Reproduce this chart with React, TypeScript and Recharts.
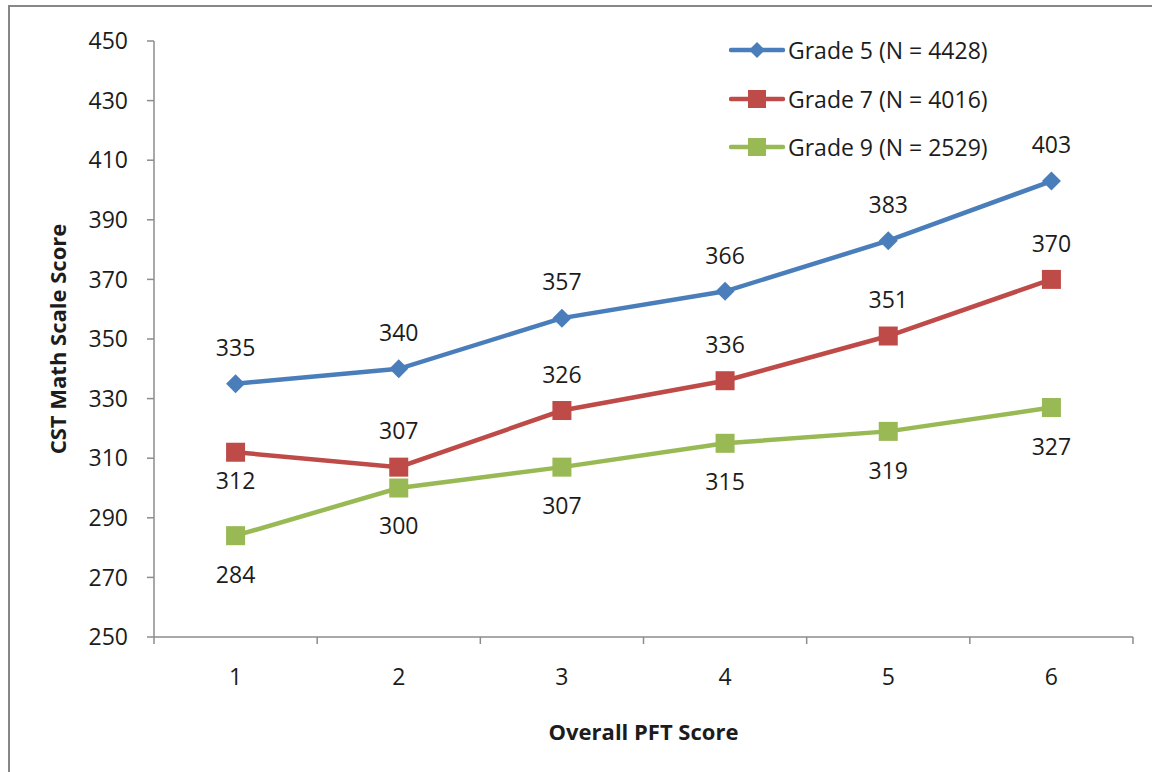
import { LineChart, Line, XAxis, YAxis, Legend, LabelList } from 'recharts'

const PFT_SCORES = [1, 2, 3, 4, 5, 6]
const GRADE5 = [335, 340, 357, 366, 383, 403]
const GRADE7 = [312, 307, 326, 336, 351, 370]
const GRADE9 = [284, 300, 307, 315, 319, 327]
const Y_TICKS = [250, 270, 290, 310, 330, 350, 370, 390, 410, 430, 450]
const X_EDGES = [0.5, 1.5, 2.5, 3.5, 4.5, 5.5, 6.5]

const AXIS_GRAY = '#8c8c8c'
const TEXT = '#1c1c1c'
const FONT = "'Open Sans', sans-serif"
const FS = 23

// label offset from the point, px (negative = above)
const SERIES = [
  { key: 'g5', name: 'Grade 5 (N = 4428)', color: '#4a7ebb', shape: 'diamond', labelDy: [-36, -36, -36, -36, -36, -36] },
  { key: 'g7', name: 'Grade 7 (N = 4016)', color: '#be4b48', shape: 'square', labelDy: [28, -36, -36, -36, -36, -36] },
  { key: 'g9', name: 'Grade 9 (N = 2529)', color: '#98b954', shape: 'square', labelDy: [39, 38, 39, 38, 39, 39] },
]

const data = PFT_SCORES.map((s, i) => ({ score: s, g5: GRADE5[i], g7: GRADE7[i], g9: GRADE9[i] }))

const Marker = ({ cx, cy, color, shape, r = 9.5 }: any) =>
  shape === 'diamond'
    ? <path d={`M${cx},${cy - r}L${cx + r},${cy}L${cx},${cy + r}L${cx - r},${cy}Z`} fill={color} />
    : <rect x={cx - r} y={cy - r} width={r * 2} height={r * 2} fill={color} />

const YTitle = ({ viewBox }: any) => {
  const cx = viewBox.x + 48
  const cy = viewBox.y + viewBox.height / 2
  return (
    <text x={cx} y={cy} dy="0.36em" transform={`rotate(-90 ${cx} ${cy})`} textAnchor="middle"
      fontSize={22} fontWeight="bold" fill={TEXT}>CST Math Scale Score</text>
  )
}

const XTitle = ({ viewBox }: any) => {
  const cx = viewBox.x + viewBox.width / 2
  const cy = viewBox.y + 87
  return (
    <text x={cx} y={cy} dy="0.36em" textAnchor="middle" fontSize={22} fontWeight="bold" fill={TEXT}>
      Overall PFT Score
    </text>
  )
}

const LegendBox = () => (
  <div style={{ display: 'flex', flexDirection: 'column', fontFamily: FONT }}>
    {SERIES.map(s => (
      <div key={s.key} style={{ display: 'flex', alignItems: 'center', height: 48.5 }}>
        <svg width={56} height={24}>
          <line x1={2} y1={12} x2={54} y2={12} stroke={s.color} strokeWidth={4.5} strokeLinecap="round" />
          <Marker cx={28} cy={12} color={s.color} shape={s.shape} r={s.shape === 'diamond' ? 8 : 9} />
        </svg>
        <span style={{ marginLeft: 3, fontSize: FS, color: TEXT, whiteSpace: 'nowrap' }}>{s.name}</span>
      </div>
    ))}
  </div>
)

export default function App() {
  return (
    <div style={{
      position: 'absolute', left: 8, top: 5, width: 1144, height: 767, boxSizing: 'border-box',
      borderLeft: '2px solid #878787', borderTop: '2px solid #878787', overflow: 'hidden',
      background: '#fff', fontFamily: FONT,
    }}>
      <LineChart width={1142} height={765} data={data} margin={{ top: 34, right: 19, left: 0, bottom: 27 }}>
        <XAxis
          xAxisId="edges"
          dataKey="score"
          type="number"
          domain={[0.5, 6.5]}
          ticks={X_EDGES}
          tickFormatter={() => ''}
          height={8}
          tickSize={7}
          axisLine={{ stroke: AXIS_GRAY, strokeWidth: 1.5 }}
          tickLine={{ stroke: AXIS_GRAY, strokeWidth: 1.5 }}
        />
        <XAxis
          xAxisId="lab"
          dataKey="score"
          type="number"
          domain={[0.5, 6.5]}
          ticks={PFT_SCORES}
          height={100}
          axisLine={false}
          tickLine={false}
          tickSize={0}
          tickMargin={24}
          tick={{ fill: TEXT, fontSize: FS }}
          label={<XTitle />}
        />
        <YAxis
          type="number"
          domain={[250, 450]}
          ticks={Y_TICKS}
          width={144}
          tickSize={7}
          tickMargin={19}
          axisLine={{ stroke: AXIS_GRAY, strokeWidth: 1.5 }}
          tickLine={{ stroke: AXIS_GRAY, strokeWidth: 1.5 }}
          tick={{ fill: TEXT, fontSize: FS }}
          label={<YTitle />}
        />
        <Legend
          layout="vertical"
          align="center"
          verticalAlign="middle"
          wrapperStyle={{ top: 19, left: 719, width: 'auto' }}
          content={() => <LegendBox />}
        />
        {SERIES.map(s => (
          <Line
            key={s.key}
            xAxisId="edges"
            dataKey={s.key}
            name={s.name}
            stroke={s.color}
            strokeWidth={4.5}
            isAnimationActive={false}
            activeDot={false}
            dot={(p: any) => <Marker key={`${s.key}-${p.index}`} cx={p.cx} cy={p.cy} color={s.color} shape={s.shape} />}
          >
            <LabelList
              dataKey={s.key}
              content={(p: any) => (
                <text key={`${s.key}-l-${p.index}`} x={p.x} y={p.y + s.labelDy[p.index]} dy="0.36em"
                  textAnchor="middle" fontSize={FS} fill={TEXT}>{p.value}</text>
              )}
            />
          </Line>
        ))}
      </LineChart>
    </div>
  )
}
